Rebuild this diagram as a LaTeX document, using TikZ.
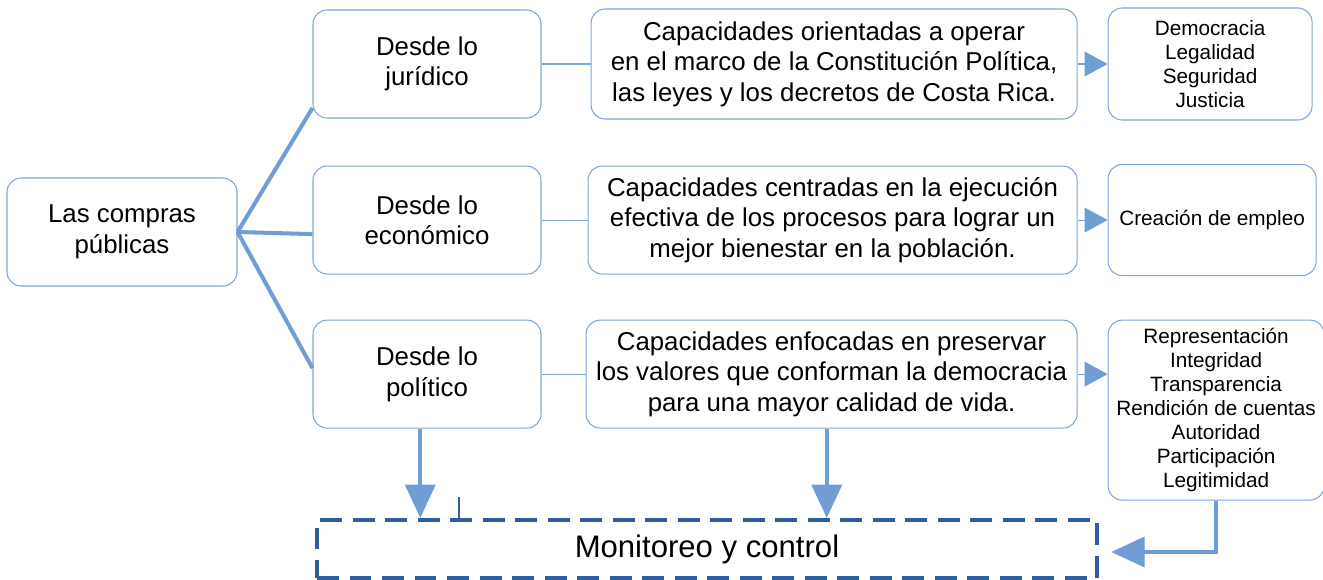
\documentclass[tikz,border=0pt]{standalone}
\usepackage{fontspec}
\setmainfont{Liberation Sans}
\usetikzlibrary{positioning,arrows.meta}
\definecolor{boxline}{HTML}{7EA6DA}
\definecolor{linkblue}{HTML}{6F9DD4}
\definecolor{dashblue}{HTML}{2F5F9E}

\begin{document}
\begin{tikzpicture}[thick,
  main node/.style={draw=boxline, line width=0.6pt, rounded corners=8pt, fill=white, align=center, inner sep=2pt, font=\fontsize{14.7}{17.4}\selectfont},
  side node/.style={main node, minimum width=4.56cm, minimum height=2.16cm},
  val node/.style={main node, font=\fontsize{11.8}{13.7}\selectfont},
  branch/.style={draw=linkblue, line width=2.3pt},
  thin link/.style={draw=boxline, line width=0.6pt},
  small arrow/.style={thin link, -{Triangle[length=13pt, width=14pt, color=linkblue]}},
  big arrow/.style={branch, -{Triangle[length=19pt, width=17pt]}}]
	\useasboundingbox (0,0) rectangle (26.46,-11.6);

	\node[main node, minimum width=4.6cm, minimum height=2.16cm] (compras) at (2.44,-4.64) {Las compras\\públicas};
	\node[side node] (juridico) at (8.54,-1.28) {Desde lo\\jurídico};
	\node[side node, below=0.94cm of juridico] (economico) {Desde lo\\económico};
	\node[side node, below=0.9cm of economico] (politico) {Desde lo\\político};

	\node[main node, minimum width=9.72cm, minimum height=2.2cm, right=0.98cm of juridico] (cap1) {Capacidades orientadas a operar\\en el marco de la Constitución Política,\\las leyes y los decretos de Costa Rica.};
	\node[main node, minimum width=9.78cm, minimum height=2.16cm, right=0.92cm of economico] (cap2) {Capacidades centradas en la ejecución\\efectiva de los procesos para lograr un\\mejor bienestar en la población.};
	\node[main node, minimum width=9.82cm, minimum height=2.16cm, right=0.88cm of politico] (cap3) {Capacidades enfocadas en preservar\\los valores que conforman la democracia\\para una mayor calidad de vida.};

	\node[val node, minimum width=4.08cm, minimum height=2.24cm, right=0.6cm of cap1] (valores1) {Democracia\\Legalidad\\Seguridad\\Justicia};
	\node[val node, minimum width=4.16cm, minimum height=2.22cm, right=0.6cm of cap2] (valores2) {Creación de empleo};
	\node[val node, minimum width=4.32cm, minimum height=3.6cm, anchor=north west] (valores3) at ([xshift=0.6cm]cap3.north east) {Representación\\Integridad\\Transparencia\\Rendición de cuentas\\Autoridad\\Participación\\Legitimidad};

	\node[draw=dashblue, line width=2.2pt, dash pattern=on 12.5pt off 6pt, minimum width=15.6cm, minimum height=1.16cm, font=\fontsize{17.7}{21}\selectfont] (monitoreo) at (14.14,-10.98) {Monitoreo y control};

	% ramas
	\path[branch]
		(compras.east) edge (juridico.201)
		(compras.east) edge (economico.187)
		(compras.east) edge (politico.177);

	\draw[thin link] (juridico.east) -- (juridico.east -| cap1.west);
	\draw[thin link] (economico.east) -- (economico.east -| cap2.west);
	\draw[thin link] (politico.east) -- (politico.east -| cap3.west);

	\draw[small arrow] (cap1.east) -- (cap1.east -| valores1.west);
	\draw[small arrow] (cap2.east) -- (cap2.east -| valores2.west);
	\draw[small arrow] (cap3.east) -- (cap3.east -| valores3.west);

	% hacia el monitoreo
	\draw[big arrow] (politico.263.7) -- (politico.263.7 |- monitoreo.north);
	\draw[big arrow] (cap3.265.8) -- (cap3.265.8 |- monitoreo.north);
	\draw[big arrow, shorten >=7pt] (valores3.south) |- ([yshift=-0.06cm]monitoreo.east);

	\coordinate (marca) at (9.18,-9.94);
	\draw[dashblue, line width=0.6pt] (marca) -- (marca |- monitoreo.north);
\end{tikzpicture}
\end{document}
